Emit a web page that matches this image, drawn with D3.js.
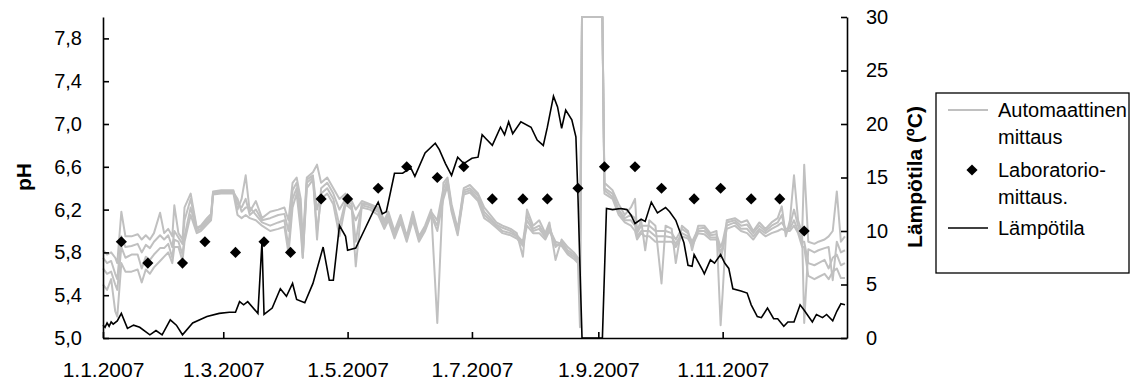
<!DOCTYPE html>
<meta charset="utf-8">
<script src="https://d3js.org/d3.v7.min.js"></script>
<style>
  body { margin: 0; background: #fff; }
  text { font-family: "Liberation Sans", Arial, sans-serif; }
</style>
<body>
<div id="chart"></div>
</body>
<script>
// automaattiset pH-mittaukset (4 anturia), päivä vuoden 2007 alusta
var phDays = [0,2,4,6,7,9,11,14,17,19, 21,23,25,28,30,32,34,35,37,39,
  40,43,46,48,51,53,54,58,64,66, 68,70,72,75,78,82,86,89,91,93,
  95,97,98,100,103,105,107,110,113,116, 119,122,124,127,131,135,138,140,143,146,
  149,152,155,158,161,164,167,169,171,174, 177,180,184,187,190,193,196,200,203,206,
  208,211,214,217,219,222,225,228,231,233, 234,235,245,246,250,253,256,259,261,262,
  264,266,268,271,274,276,279,281,284,287, 289,292,295,298,301,303,304,306,310,313,
  316,319,322,325,328,331,333,335,337,339, 341,343,344,346,349,351,354,356,358,360,362,364];

var phSensor1 = [5.82,5.78,5.80,5.75,5.70,6.18,5.95,5.95,5.97,5.92, 5.96,5.92,5.98,6.17,5.98,6.02,5.95,6.24,5.98,5.92,
  6.22,6.35,6.03,6.05,6.12,6.16,6.37,6.38,6.38,6.20, 6.30,6.52,6.18,6.28,6.12,6.18,6.20,6.22,6.10,6.45,
  6.50,6.30,5.90,6.50,6.55,6.62,6.45,6.50,6.40,6.30, 6.35,6.28,6.20,6.28,6.25,6.22,6.10,6.18,6.00,6.15,
  5.95,6.18,5.95,6.05,6.20,5.14,6.45,6.50,6.25,6.02, 6.40,6.43,6.35,6.22,6.15,6.08,6.05,6.02,5.98,5.76,
  6.20,6.05,6.10,5.98,6.08,5.73,5.92,5.85,5.80,5.75, 5.72,8,8,6.45,6.38,6.25,6.15,6.22,6.30,6.00,
  6.10,5.82,6.10,6.05,5.51,6.05,6.02,5.70,6.05,6.00, 5.82,6.05,6.05,5.98,6.00,5.12,5.42,6.10,6.12,6.08,
  6.10,6.00,6.08,6.02,6.08,6.12,6.23,5.95,6.10,6.52, 6.10,5.98,6.62,5.90,5.88,5.90,5.92,5.95,6.00,6.37,5.90,5.95];

var phSensor2 = [5.75,5.70,5.72,5.60,5.55,5.95,5.85,5.86,5.88,5.80, 5.87,5.84,5.90,5.96,5.92,5.96,5.85,6.00,5.94,5.88,
  6.10,6.30,6.02,6.04,6.10,6.14,6.36,6.37,6.37,6.25, 6.22,6.30,6.15,6.20,6.10,6.12,6.15,6.16,6.00,6.38,
  6.45,6.20,5.80,6.48,6.52,5.92,6.40,6.45,6.35,6.20, 6.30,6.25,5.90,6.26,6.24,6.20,6.08,6.15,5.98,6.12,
  5.94,6.15,5.93,6.03,6.18,6.10,6.40,6.48,6.22,6.00, 6.38,6.40,6.33,6.18,6.12,6.06,6.03,6.00,5.96,5.90,
  6.15,6.02,6.05,5.96,6.05,5.85,5.90,5.82,5.78,5.73, 5.70,8,8,6.40,6.35,6.20,6.12,6.15,6.12,5.98,
  6.05,6.05,6.05,6.00,6.00,6.00,5.98,5.92,6.02,5.98, 5.90,6.02,6.03,5.96,5.97,5.85,5.90,6.08,6.10,6.05,
  6.06,5.98,6.05,6.00,6.05,6.08,6.15,5.98,6.05,6.20, 6.05,5.95,5.14,5.83,5.80,5.82,5.84,5.85,5.54,5.90,5.80,5.82];

var phSensor3 = [5.65,5.60,5.62,5.50,5.45,5.85,5.75,5.78,5.78,5.65, 5.76,5.73,5.78,5.84,5.84,5.88,5.75,5.92,5.90,5.78,
  5.95,6.22,6.00,6.02,6.08,6.12,6.35,6.36,6.36,6.30, 6.18,6.22,6.22,6.15,6.08,6.05,6.08,6.10,5.85,6.30,
  6.40,6.10,5.75,6.45,6.50,6.20,6.35,6.40,6.30,6.05, 6.28,6.22,5.67,6.24,6.22,6.18,6.05,6.12,5.95,6.10,
  5.92,6.12,5.92,6.02,6.16,6.05,6.35,6.45,6.20,5.98, 6.36,6.38,6.30,6.15,6.10,6.05,6.00,5.98,5.95,5.88,
  6.10,6.00,6.02,5.94,6.02,5.90,5.88,5.80,5.76,5.71, 5.68,8,8,6.38,6.32,6.18,6.10,6.10,6.05,5.95,
  6.00,6.00,6.00,5.95,5.95,5.95,5.94,5.88,5.98,5.95, 5.88,6.00,6.00,5.94,5.94,5.80,5.85,6.05,6.08,6.02,
  6.02,5.95,6.02,5.98,6.02,6.05,6.08,6.02,6.02,6.10, 6.00,5.90,5.90,5.70,5.68,5.70,5.73,5.65,5.75,5.78,5.68,5.70];

var phSensor4 = [5.50,5.45,5.55,5.25,5.20,5.70,5.62,5.62,5.64,5.52, 5.64,5.60,5.66,5.72,5.76,5.80,5.70,5.85,5.85,5.72,
  5.90,6.15,5.98,6.00,6.06,6.10,6.34,6.35,6.35,6.15, 6.12,6.15,6.12,6.10,6.05,6.00,6.02,6.04,5.79,6.22,
  6.35,6.00,5.75,6.40,6.48,6.00,6.30,6.35,6.25,5.95, 6.25,6.20,6.10,6.22,6.20,6.15,6.02,6.10,5.93,6.08,
  5.90,6.10,5.90,6.00,6.15,6.00,6.30,6.42,6.18,5.96, 6.34,6.36,6.28,6.12,6.08,6.03,5.98,5.96,5.93,5.86,
  6.05,5.98,5.98,5.92,6.00,5.88,5.86,5.78,5.74,5.70, 5.10,8,8,6.35,6.30,6.15,6.08,6.05,6.00,5.92,
  5.98,5.95,5.95,5.90,5.90,5.90,5.90,5.85,5.95,5.93, 5.86,5.98,5.97,5.92,5.92,5.75,5.82,6.02,6.05,6.00,
  5.98,5.92,6.00,5.95,5.98,6.00,6.02,6.00,6.00,6.05, 5.98,5.85,5.85,5.58,5.55,5.57,5.60,5.55,5.62,5.65,5.56,5.56];

// laboratoriomittaukset
var labDates = ["2007-01-10","2007-01-23","2007-02-09","2007-02-20","2007-03-07","2007-03-21","2007-04-03",
  "2007-04-18","2007-05-01","2007-05-16","2007-05-30","2007-06-14","2007-06-27","2007-07-11","2007-07-26",
  "2007-08-07","2007-08-22","2007-09-04","2007-09-19","2007-10-02","2007-10-18","2007-10-31","2007-11-15",
  "2007-11-29","2007-12-11"];
var labPh = [5.9,5.7,5.7,5.9,5.8,5.9,5.8,6.3,6.3,6.4,6.6,6.5,6.6,6.3,6.3,6.3,6.4,6.6,6.6,6.4,6.3,6.4,6.3,6.3,6.0];

// lämpötila (ºC)
var tempDays = [0,1,2,3,4,5,7,9,12,15,18,23,26,29,33,36,39,44,51,57,62,65,67,69,71,76,78,79,83,87,90,93,95,99,
  103,108,111,113,116,119,120,124,129,133,135,137,139,143,147,151,153,158,163,165,168,171,174,177,181,184,
  186,188,191,195,197,199,201,205,210,213,216,218,221,223,225,227,230,232,233,235,245,247,250,254,257,259,
  261,264,266,269,272,276,278,281,285,287,289,290,294,295,298,300,303,305,307,309,313,316,318,321,323,326,
  329,331,334,336,339,342,344,348,350,353,355,358,360,362,364];
var tempValues = [1.2,1.0,1.4,1.1,1.5,1.3,1.6,2.3,0.9,1.2,1.0,0.3,0.7,0.3,1.7,1.2,0.3,1.4,2.0,2.3,2.4,2.4,3.4,3.1,3.4,2.3,9.0,2.2,2.8,4.6,3.9,5.1,3.6,3.3,
  5.1,8.5,5.4,5.4,10.5,9.5,8.2,8.4,10.4,12.0,12.7,11.6,11.8,15.4,15.4,15.9,15.1,17.3,18.2,17.6,16.3,15.2,16.9,16.3,16.8,16.9,
  19.0,18.6,18.0,19.7,19.0,20.2,19.1,20.2,19.7,18.5,18.0,19.7,22.6,21.6,19.6,21.3,20.4,18.8,13.3,0,0,12.1,12.0,12.1,12.0,11.5,
  10.7,11.1,10.9,12.7,11.7,12.2,11.8,11.0,8.9,6.8,6.7,7.8,6.4,6.0,7.3,7.0,7.8,7.0,6.5,4.6,4.4,4.2,3.1,2.0,1.9,2.8,
  1.8,1.8,1.1,1.5,1.5,3.1,2.6,1.5,2.2,1.9,2.2,1.6,2.5,3.2,3.1];

// akselit
var xTickDates = ["2007-01-01","2007-03-01","2007-05-01","2007-07-01","2007-09-01","2007-11-01"];
var phTicks = [5.0,5.4,5.8,6.2,6.6,7.0,7.4,7.8];
var tempTicks = [0,5,10,15,20,25,30];

var W = 1133, H = 383;
var plotLeft = 103, plotRight = 847, plotTop = 17, plotBottom = 338;

var parse = d3.timeParse("%Y-%m-%d");
var start = new Date(2007, 0, 1);

var svg = d3.select("#chart").append("svg")
    .attr("width", W)
    .attr("height", H);
svg.append("rect").attr("width", W).attr("height", H).attr("fill", "#fff");

var x = d3.scaleTime()
    .domain([start, new Date(2008, 0, 1)])
    .range([plotLeft, plotRight]);
var y = d3.scaleLinear().domain([5, 8]).range([plotBottom, plotTop]);
var y2 = d3.scaleLinear().domain([0, 30]).range([plotBottom, plotTop]);

// automaattinen mittaus
var grey = "#c0c0c0";
[phSensor1, phSensor2, phSensor3, phSensor4].forEach(function(vals) {
    var pts = phDays.map(function(d, i) { return [d3.timeDay.offset(start, d), vals[i]]; });
    svg.append("path")
        .datum(pts)
        .attr("fill", "none")
        .attr("stroke", grey)
        .attr("stroke-width", 2)
        .attr("stroke-linejoin", "round")
        .attr("d", d3.line().x(function(p) { return x(p[0]); }).y(function(p) { return y(p[1]); }));
});

// lämpötila
var tempPts = tempDays.map(function(d, i) { return [d3.timeDay.offset(start, d), tempValues[i]]; });
svg.append("path")
    .datum(tempPts)
    .attr("fill", "none")
    .attr("stroke", "#000")
    .attr("stroke-width", 1.6)
    .attr("d", d3.line().x(function(p) { return x(p[0]); }).y(function(p) { return y2(p[1]); }));

// laboratoriomittaus
var diamond = d3.symbol().type(d3.symbolSquare).size(62);
svg.append("g").selectAll("path")
    .data(labDates)
    .enter()
    .append("path")
    .attr("d", diamond)
    .attr("fill", "#000")
    .attr("transform", function(d, i) {
        return "translate(" + x(parse(d)) + "," + y(labPh[i]) + ") rotate(45)";
    });

// akselit
var fmtComma = function(v) { return d3.format(".1f")(v).replace(".", ","); };

var gx = svg.append("g")
    .attr("transform", "translate(0," + plotBottom + ")")
    .call(d3.axisBottom(x)
        .tickValues(xTickDates.map(parse))
        .tickFormat(d3.timeFormat("%-d.%-m.%Y"))
        .tickSizeInner(-6).tickSizeOuter(0).tickPadding(24));

var gy = svg.append("g")
    .attr("transform", "translate(" + plotLeft + ",0)")
    .call(d3.axisLeft(y)
        .tickValues(phTicks)
        .tickFormat(fmtComma)
        .tickSizeInner(-6).tickSizeOuter(0).tickPadding(21));

var gy2 = svg.append("g")
    .attr("transform", "translate(" + plotRight + ",0)")
    .call(d3.axisRight(y2)
        .tickValues(tempTicks)
        .tickSizeInner(-6).tickSizeOuter(0).tickPadding(19));

[gx, gy, gy2].forEach(function(g) {
    g.select(".domain").attr("stroke", "#000").attr("stroke-width", 1.6);
    g.selectAll(".tick line").attr("stroke", "#000").attr("stroke-width", 1.6);
    g.selectAll("text")
        .attr("fill", "#000")
        .style("font-size", "20px")
        .style("font-family", "'Liberation Sans', Arial, sans-serif");
});
gx.selectAll("text").style("font-size", "21px");

// akselien otsikot
svg.append("text")
    .attr("transform", "translate(31,177) rotate(-90)")
    .attr("text-anchor", "middle")
    .style("font-size", "21px")
    .style("font-weight", "bold")
    .text("pH");

svg.append("text")
    .attr("transform", "translate(922,177) rotate(-90)")
    .attr("text-anchor", "middle")
    .style("font-size", "21px")
    .style("font-weight", "bold")
    .text("Lämpötila (ºC)");

// selite
var lg = svg.append("g");
lg.append("rect")
    .attr("x", 936).attr("y", 93)
    .attr("width", 193).attr("height", 180)
    .attr("fill", "#fff")
    .attr("stroke", "#000")
    .attr("stroke-width", 1.3);

lg.append("line").attr("x1", 948).attr("x2", 988).attr("y1", 110).attr("y2", 110)
    .attr("stroke", grey).attr("stroke-width", 2);
lg.append("path").attr("d", diamond)
    .attr("transform", "translate(972,170) rotate(45)")
    .attr("fill", "#000");
lg.append("line").attr("x1", 948).attr("x2", 988).attr("y1", 228).attr("y2", 228)
    .attr("stroke", "#000").attr("stroke-width", 1.6);

var legendLines = [["Automaattinen", 110], ["mittaus", 137], ["Laboratorio-", 170], ["mittaus.", 197], ["Lämpötila", 228]];
lg.selectAll("text.lbl")
    .data(legendLines)
    .enter()
    .append("text")
    .attr("class", "lbl")
    .attr("x", 998)
    .attr("y", function(d) { return d[1]; })
    .attr("dy", "0.35em")
    .style("font-size", "20px")
    .text(function(d) { return d[0]; });
</script>
